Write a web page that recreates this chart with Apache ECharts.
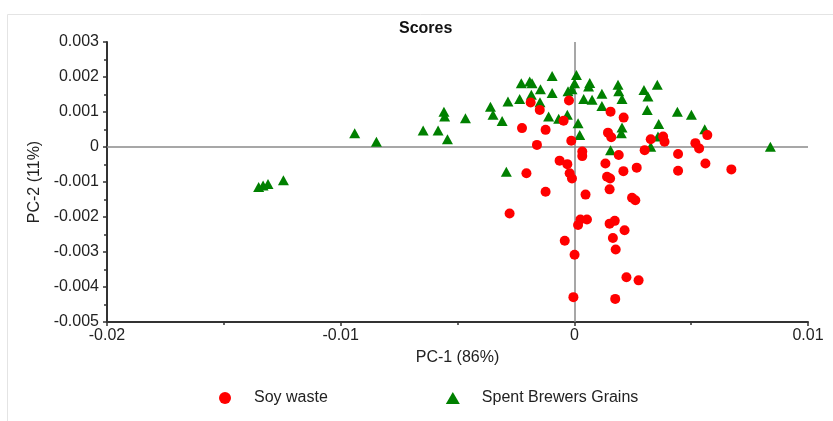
<!DOCTYPE html>
<html>
<head>
<meta charset="utf-8">
<script src="https://cdn.jsdelivr.net/npm/echarts@6/dist/echarts.min.js"></script>
<style>
html,body{margin:0;padding:0;background:#fff;}
#chart{width:833px;height:421px;}
</style>
</head>
<body>
<div id="chart"></div>
<script>
// Data: [PC-1, PC-2]
const seriesNames = ['Soy waste', 'Spent Brewers Grains'];
const soyWaste = [
  [-0.00187,0.00127],[-0.00148,0.00106],[-0.00023,0.00133],[-0.00046,0.00075],[-0.00224,0.00054],
  [-0.00123,0.00049],[-0.00160,0.00006],[-0.00013,0.00018],[0.00155,0.00101],[0.00211,0.00084],
  [0.00144,0.00041],[0.00158,0.00028],[0.00327,0.00022],[0.00380,0.00030],[0.00386,0.00015],
  [0.00301,-0.00009],[0.00518,0.00011],[0.00534,-0.00004],[0.00569,0.00034],[0.00444,-0.00020],
  [0.00561,-0.00047],[0.00672,-0.00064],[0.00444,-0.00068],[0.00267,-0.00059],[0.00210,-0.00069],
  [0.00190,-0.00023],[0.00133,-0.00047],[0.00034,-0.00013],[0.00034,-0.00026],[-0.00063,-0.00039],
  [-0.00030,-0.00049],[-0.00205,-0.00075],[-0.00020,-0.00075],[-0.00010,-0.00090],[0.00140,-0.00085],
  [0.00153,-0.00090],[0.00151,-0.00121],[-0.00123,-0.00128],[0.00048,-0.00136],[0.00247,-0.00145],
  [0.00261,-0.00152],[-0.00277,-0.00190],[0.00026,-0.00207],[0.00054,-0.00207],[0.00016,-0.00223],
  [0.00151,-0.00219],[0.00173,-0.00211],[0.00215,-0.00238],[0.00165,-0.00260],[0.00177,-0.00293],
  [-0.00041,-0.00268],[0.00001,-0.00308],[0.00223,-0.00372],[0.00275,-0.00381],[-0.00004,-0.00429],
  [0.00175,-0.00434]
];
const spentGrains = [
  [-0.01351,-0.00114],[-0.01332,-0.00110],[-0.01311,-0.00106],[-0.01245,-0.00095],
  [-0.00940,0.00039],[-0.00847,0.00015],
  [-0.00647,0.00047],[-0.00583,0.00047],[-0.00543,0.00022],[-0.00558,0.00101],[-0.00555,0.00087],
  [-0.00466,0.00082],[-0.00359,0.00115],[-0.00348,0.00092],[-0.00309,0.00074],[-0.00284,0.00130],
  [-0.00227,0.00182],[-0.00191,0.00187],[-0.00181,0.00182],[-0.00095,0.00203],[-0.00145,0.00165],
  [-0.00234,0.00137],[-0.00184,0.00149],[-0.00147,0.00128],[-0.00095,0.00154],[-0.00110,0.00087],
  [-0.00067,0.00081],[-0.00030,0.00092],[-0.00027,0.00159],[-0.00010,0.00165],[0.00009,0.00206],
  [0.00001,0.00182],[0.00016,0.00068],[0.00023,0.00034],[0.00040,0.00137],[0.00066,0.00183],
  [0.00061,0.00173],[0.00076,0.00135],[0.00118,0.00152],[0.00118,0.00117],[0.00187,0.00178],
  [0.00190,0.00159],[0.00204,0.00137],[0.00204,0.00056],[0.00201,0.00039],[0.00155,-0.00009],
  [0.00298,0.00163],[0.00315,0.00144],[0.00312,0.00106],[0.00355,0.00178],[0.00361,0.00066],
  [0.00441,0.00101],[0.00501,0.00092],[0.00558,0.00051],[0.00839,0.00001],[0.00358,0.00030],
  [0.00327,0.00001],[-0.00291,-0.00071]
];
const xRange = [-0.02, 0.01, 0.01];   // min, max, interval
const yRange = [-0.005, 0.003, 0.001];

const FONT = '"Liberation Sans", Arial, sans-serif';
const chart = echarts.init(document.getElementById('chart'), null, {renderer: 'canvas'});
chart.setOption({
  animation: false,
  backgroundColor: '#fff',
  textStyle: {fontFamily: FONT},
  title: {
    text: 'Scores', left: 394, top: 16,
    textStyle: {fontFamily: FONT, fontSize: 16, fontWeight: 'bold', color: '#111'}
  },
  graphic: [{
    type: 'rect', silent: true, z: -1,
    shape: {x: 7.5, y: 14.5, width: 900, height: 500},
    style: {fill: 'none', stroke: '#e4e4e4', lineWidth: 1}
  }],
  grid: {left: 107, right: 25, top: 42, bottom: 99, containLabel: false},
  legend: {
    left: 214, top: 385, itemGap: 118,
    itemWidth: 14, itemHeight: 12,
    data: [
      {name: seriesNames[0], icon: 'circle'},
      {name: seriesNames[1], icon: 'triangle'}
    ],
    textStyle: {fontFamily: FONT, fontSize: 16, color: '#222', padding: [0, 0, 0, 17]}
  },
  xAxis: {
    type: 'value', min: xRange[0], max: xRange[1], interval: xRange[2],
    name: 'PC-1 (86%)', nameLocation: 'middle', nameGap: 28,
    nameTextStyle: {fontFamily: FONT, fontSize: 16, color: '#222'},
    axisLine: {show: true, onZero: false, lineStyle: {color: '#333', width: 2}},
    axisTick: {show: true, length: 4, lineStyle: {color: '#333', width: 1.5}},
    minorTick: {show: true, splitNumber: 2, length: 3, lineStyle: {color: '#333', width: 1.5}},
    splitLine: {show: false},
    axisLabel: {fontFamily: FONT, fontSize: 16, color: '#222', margin: 6}
  },
  yAxis: {
    type: 'value', min: yRange[0], max: yRange[1], interval: yRange[2],
    name: 'PC-2 (11%)', nameLocation: 'middle', nameGap: 60,
    nameTextStyle: {fontFamily: FONT, fontSize: 16, color: '#222'},
    axisLine: {show: true, onZero: false, lineStyle: {color: '#333', width: 2}},
    axisTick: {show: true, length: 4, lineStyle: {color: '#333', width: 1.5}},
    minorTick: {show: true, splitNumber: 2, length: 3, lineStyle: {color: '#333', width: 1.5}},
    splitLine: {show: false},
    axisLabel: {fontFamily: FONT, fontSize: 16, color: '#222', margin: 8}
  },
  series: [
    {
      name: seriesNames[1], type: 'scatter', z: 3,
      symbol: 'triangle', symbolSize: [11, 10],
      itemStyle: {color: '#008000', opacity: 1},
      data: spentGrains,
      markLine: {
        silent: true, symbol: 'none', z: 1,
        label: {show: false},
        lineStyle: {color: '#8a8a8a', width: 1.5, type: 'solid'},
        data: [{xAxis: 0}, {yAxis: 0}]
      }
    },
    {
      name: seriesNames[0], type: 'scatter', z: 4,
      symbol: 'circle', symbolSize: 10,
      itemStyle: {color: '#ff0000', opacity: 1},
      data: soyWaste
    }
  ]
});
</script>
</body>
</html>
